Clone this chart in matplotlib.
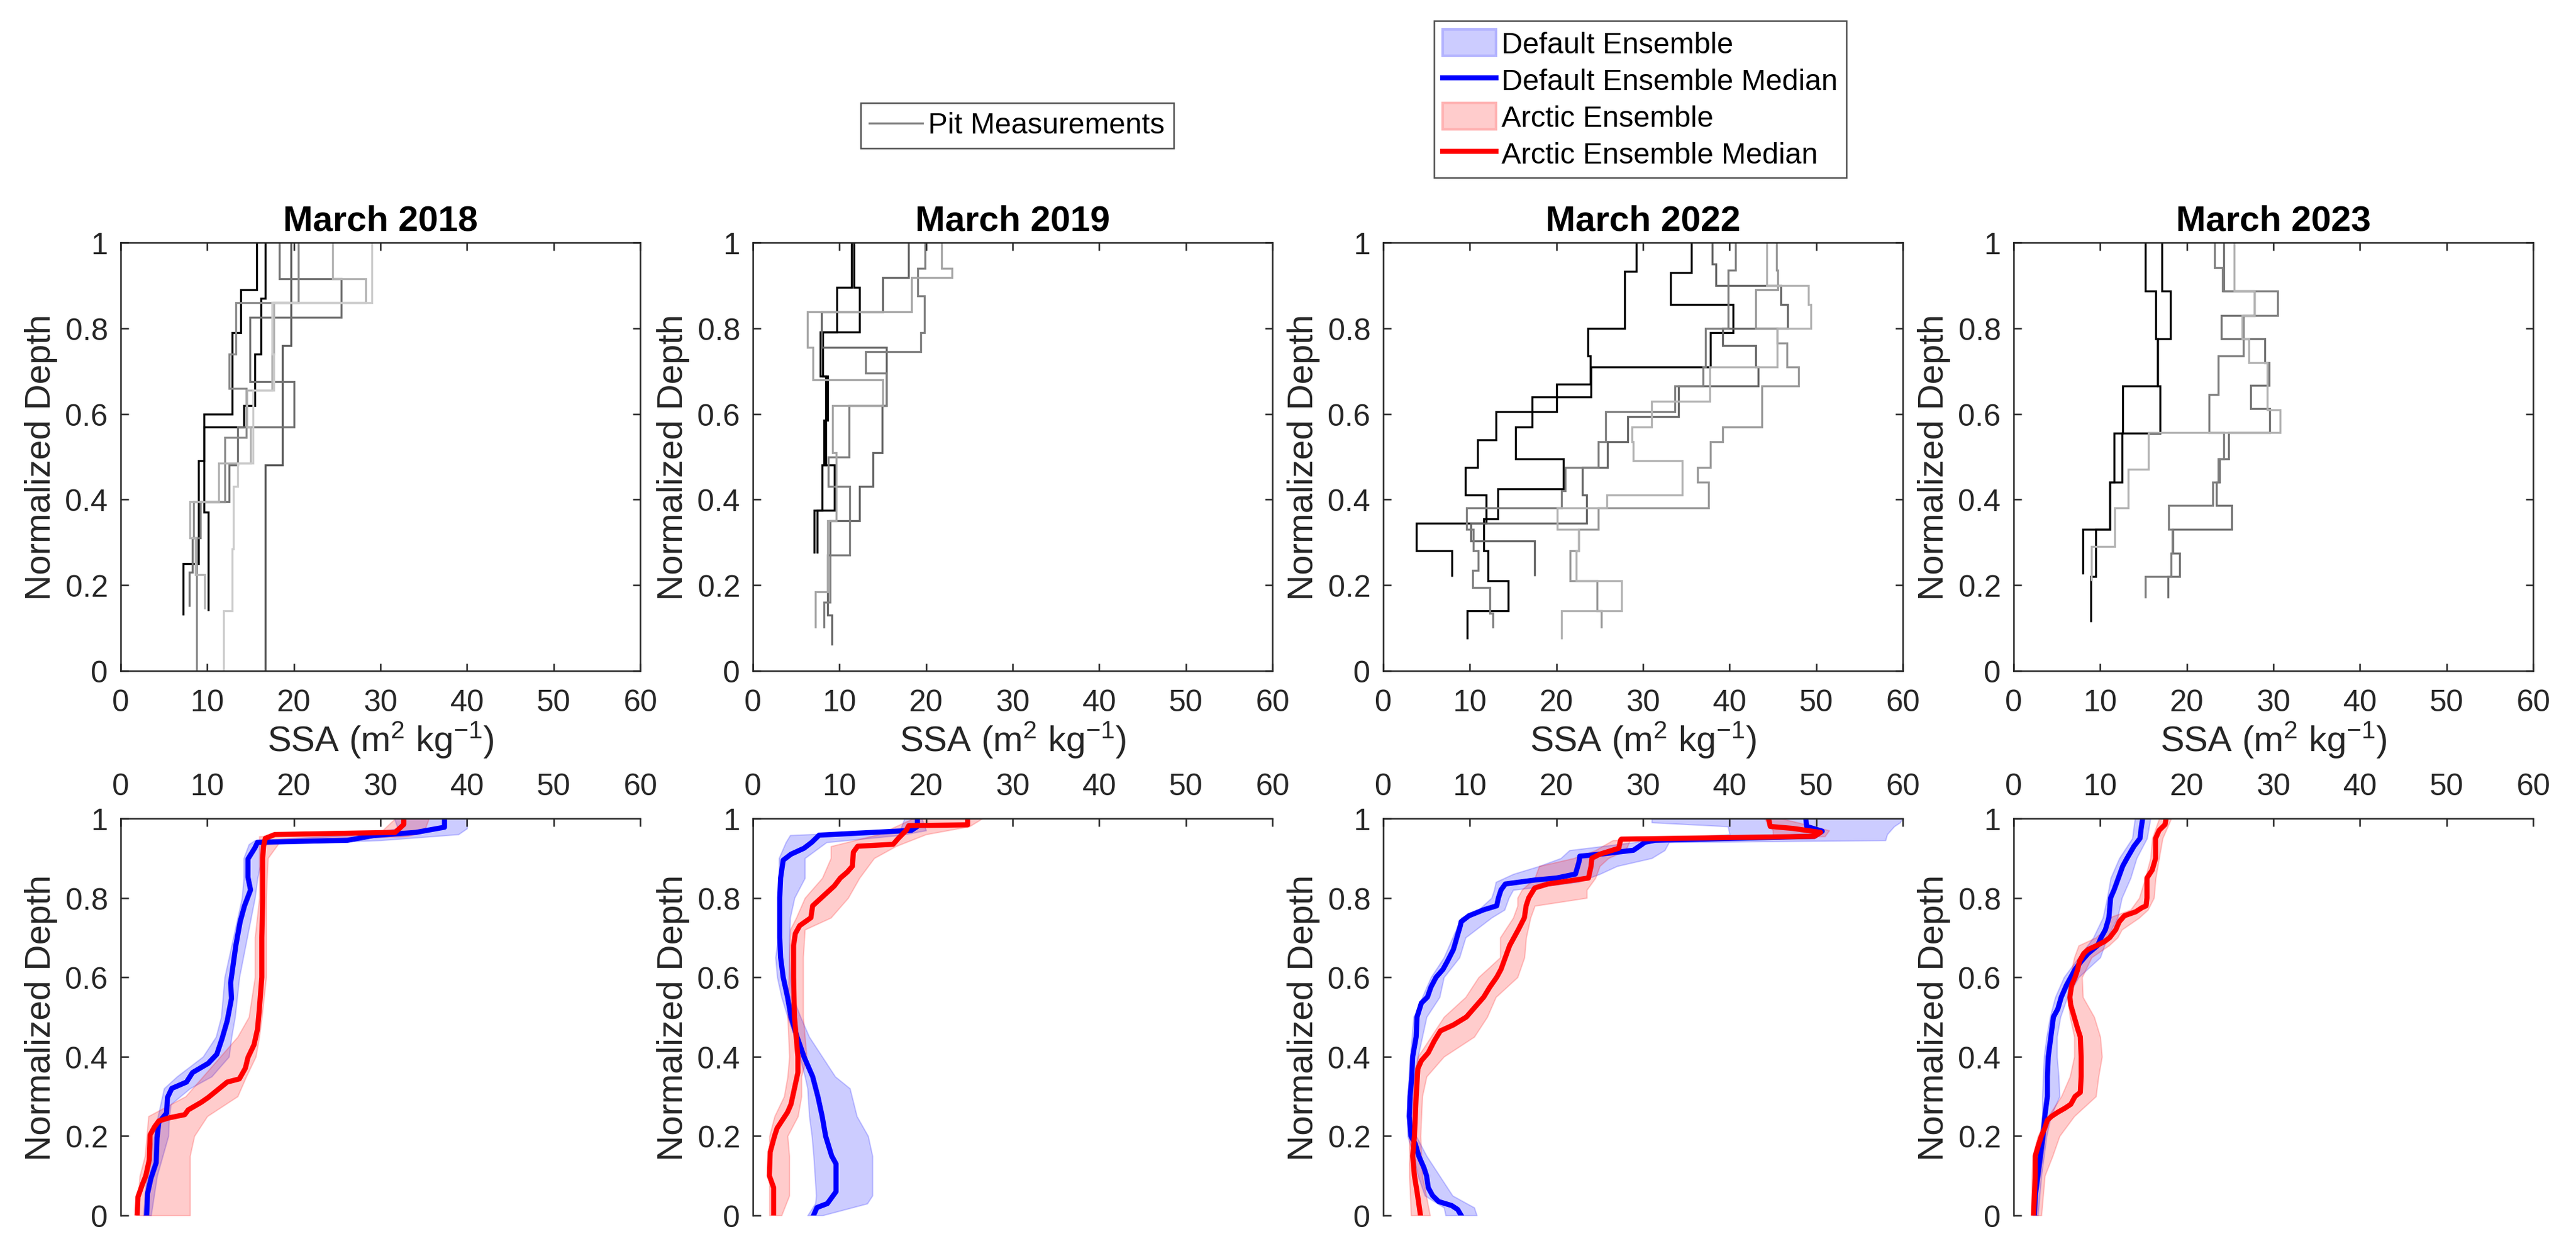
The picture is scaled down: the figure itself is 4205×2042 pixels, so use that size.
import matplotlib.pyplot as plt
from matplotlib.lines import Line2D
from matplotlib.patches import Patch
from matplotlib.ticker import FuncFormatter

plt.rcParams["font.family"] = ["Liberation Sans", "DejaVu Sans"]
plt.rcParams["mathtext.default"] = "regular"

years = [2018, 2019, 2022, 2023]
titles = ["March 2018", "March 2019", "March 2022", "March 2023"]

# pit profiles: layer boundaries from the surface down, SSA of each layer
pits_2018 = [
    ([1.0, 0.89, 0.79, 0.60, 0.49, 0.25, 0.13], [15.7, 13.9, 12.9, 9.6, 9.0, 7.2]),
    ([1.0, 0.87, 0.74, 0.62, 0.57, 0.37, 0.14], [16.7, 16.2, 15.5, 14.2, 9.6, 10.1]),
    ([1.0, 0.76, 0.48, 0.0], [19.7, 18.7, 16.7]),
    ([1.0, 0.915, 0.825, 0.675, 0.57, 0.48, 0.395, 0.31, 0.23, 0.15],
     [18.3, 25.5, 14.9, 20.0, 13.5, 12.5, 9.2, 8.3, 7.9]),
    ([1.0, 0.86, 0.74, 0.66, 0.545, 0.395, 0.31, 0.0], [20.5, 13.3, 12.5, 14.5, 12.0, 8.4, 8.8]),
    ([1.0, 0.915, 0.86, 0.74, 0.655, 0.57, 0.485, 0.395, 0.31, 0.225, 0.145],
     [24.5, 28.3, 17.7, 17.5, 14.6, 15.0, 11.3, 8.0, 8.6, 9.7]),
    ([1.0, 0.86, 0.74, 0.655, 0.485, 0.43, 0.285, 0.14, 0.0],
     [29.0, 17.5, 17.7, 15.3, 13.5, 13.0, 12.9, 11.9]),
]
pits_2019 = [
    ([1.0, 0.896, 0.791, 0.688, 0.585, 0.48, 0.375, 0.275], [11.7, 12.3, 7.8, 8.6, 8.2, 9.4, 7.1]),
    ([1.0, 0.896, 0.791, 0.688, 0.48, 0.375, 0.275], [11.4, 9.7, 8.1, 8.4, 8.0, 7.4]),
    ([1.0, 0.918, 0.838, 0.755, 0.62, 0.51, 0.43, 0.35, 0.27, 0.13, 0.06],
     [18.0, 15.0, 7.9, 15.4, 14.9, 13.9, 12.3, 8.9, 8.6, 9.1]),
    ([1.0, 0.94, 0.875, 0.79, 0.745, 0.695, 0.62, 0.50, 0.43, 0.27, 0.16, 0.10],
     [19.9, 19.0, 19.8, 19.4, 13.0, 15.4, 11.1, 8.7, 11.2, 8.9, 8.2]),
    ([1.0, 0.94, 0.918, 0.838, 0.755, 0.68, 0.62, 0.51, 0.35, 0.185, 0.10],
     [21.8, 23.0, 18.3, 6.3, 6.9, 15.0, 9.2, 9.6, 8.6, 7.2]),
]
pits_2022 = [
    ([1.0, 0.933, 0.80, 0.735, 0.67, 0.605, 0.54, 0.475, 0.41, 0.345, 0.28, 0.22],
     [29.2, 27.9, 23.6, 23.9, 20.0, 13.0, 10.9, 9.5, 11.9, 3.8, 7.9]),
    ([1.0, 0.93, 0.855, 0.79, 0.71, 0.64, 0.57, 0.495, 0.425, 0.355, 0.28, 0.21, 0.14, 0.075],
     [35.6, 33.2, 40.4, 37.8, 24.0, 17.2, 15.3, 20.8, 13.2, 11.6, 12.1, 14.4, 9.7]),
    ([1.0, 0.95, 0.90, 0.856, 0.80, 0.76, 0.71, 0.665, 0.594, 0.535, 0.475, 0.41, 0.345, 0.304, 0.222],
     [38.0, 38.4, 45.9, 46.7, 39.2, 43.0, 43.3, 34.1, 28.2, 25.9, 23.0, 23.5, 10.1, 17.5]),
    ([1.0, 0.935, 0.80, 0.71, 0.665, 0.605, 0.535, 0.475, 0.42, 0.38, 0.33, 0.28, 0.235, 0.195, 0.135, 0.10],
     [40.7, 39.8, 37.2, 36.9, 33.7, 25.7, 24.8, 21.0, 20.6, 9.6, 10.4, 11.0, 10.3, 12.3, 12.7]),
    ([1.0, 0.935, 0.89, 0.80, 0.765, 0.71, 0.665, 0.57, 0.535, 0.475, 0.44, 0.38, 0.33, 0.28, 0.21, 0.14, 0.10],
     [45.4, 45.6, 43.0, 45.5, 46.6, 48.0, 43.7, 39.2, 37.8, 36.3, 37.6, 24.8, 22.6, 21.6, 24.7, 25.2]),
    ([1.0, 0.90, 0.855, 0.80, 0.71, 0.63, 0.57, 0.535, 0.49, 0.41, 0.38, 0.33, 0.28, 0.21, 0.14, 0.075],
     [44.3, 49.1, 49.4, 45.5, 37.7, 31.0, 28.7, 28.9, 34.5, 25.8, 20.1, 22.6, 22.3, 27.5, 20.6]),
]
pits_2023 = [
    ([1.0, 0.887, 0.776, 0.665, 0.555, 0.441, 0.33, 0.226], [15.2, 16.4, 16.6, 12.6, 11.6, 11.1, 8.0]),
    ([1.0, 0.887, 0.776, 0.665, 0.555, 0.44, 0.33, 0.22, 0.115], [17.1, 18.1, 16.6, 16.9, 12.5, 11.1, 9.5, 8.9]),
    ([1.0, 0.887, 0.83, 0.776, 0.72, 0.666, 0.612, 0.556, 0.495, 0.44, 0.386, 0.33, 0.275, 0.22, 0.17],
     [24.3, 27.8, 24.0, 29.0, 29.5, 27.4, 29.6, 24.8, 23.8, 23.4, 25.2, 18.4, 19.2, 17.8]),
    ([1.0, 0.942, 0.887, 0.83, 0.735, 0.645, 0.556, 0.495, 0.44, 0.386, 0.33, 0.275, 0.22, 0.17],
     [23.2, 24.1, 30.5, 26.5, 23.6, 22.6, 24.3, 23.6, 23.0, 17.9, 18.3, 18.2, 15.2]),
    ([1.0, 0.887, 0.83, 0.776, 0.72, 0.61, 0.556, 0.47, 0.38, 0.29, 0.21],
     [25.5, 27.8, 26.4, 27.2, 29.3, 30.8, 15.6, 13.2, 11.7, 9.0]),
]
pits = {2018: pits_2018, 2019: pits_2019, 2022: pits_2022, 2023: pits_2023}

# ensemble medians (depth, SSA)
default_med_depth = {
    2018: [1.0, 0.978, 0.965, 0.957, 0.945, 0.94, 0.926, 0.898, 0.852, 0.82, 0.78, 0.74, 0.68, 0.633, 0.586,
           0.547, 0.49, 0.445, 0.406, 0.383, 0.36, 0.336, 0.32, 0.297, 0.258, 0.234, 0.195, 0.133, 0.094, 0.055, 0.0],
    2019: [1.0, 0.98, 0.97, 0.958, 0.94, 0.925, 0.91, 0.895, 0.85, 0.8, 0.7, 0.65, 0.6, 0.55, 0.5, 0.45, 0.4,
           0.35, 0.3, 0.25, 0.2, 0.15, 0.13, 0.06, 0.045, 0.03, 0.02, 0.0],
    2022: [1.0, 0.98, 0.968, 0.955, 0.945, 0.94, 0.935, 0.92, 0.91, 0.905, 0.89, 0.86, 0.85, 0.845, 0.835, 0.82,
           0.8, 0.78, 0.77, 0.755, 0.74, 0.73, 0.7, 0.67, 0.64, 0.62, 0.6, 0.575, 0.55, 0.535, 0.5, 0.45, 0.4,
           0.35, 0.3, 0.25, 0.2, 0.18, 0.15, 0.12, 0.1, 0.07, 0.05, 0.035, 0.025, 0.015, 0.0],
    2023: [1.0, 0.97, 0.95, 0.93, 0.9, 0.88, 0.85, 0.82, 0.8, 0.75, 0.72, 0.7, 0.68, 0.66, 0.64, 0.62, 0.6, 0.58,
           0.55, 0.52, 0.5, 0.45, 0.4, 0.35, 0.3, 0.25, 0.2, 0.15, 0.1, 0.05, 0.0],
}
default_med = {
    2018: [37.4, 37.4, 34.1, 29.2, 26.2, 15.8, 15.5, 14.7, 14.7, 15.0, 14.3, 13.8, 13.3, 13.0, 12.7, 12.8, 12.3,
           11.7, 11.1, 10.1, 8.3, 7.6, 5.9, 5.4, 5.3, 4.4, 4.2, 4.1, 3.5, 3.1, 3.0],
    2019: [19.0, 19.0, 18.3, 7.65, 6.8, 5.9, 4.4, 3.5, 3.2, 3.1, 3.1, 3.2, 3.5, 4.0, 4.4, 5.1, 5.9, 6.9, 7.5,
           8.0, 8.4, 9.1, 9.6, 9.6, 9.1, 8.6, 7.4, 7.0],
    2022: [48.8, 48.9, 50.7, 49.8, 31.4, 30.2, 29.9, 28.9, 25.0, 22.7, 22.6, 22.2, 20.0, 17.5, 14.1, 13.6, 13.3,
           13.1, 11.6, 9.9, 9.0, 8.9, 8.5, 8.1, 7.4, 6.9, 6.1, 5.5, 5.1, 4.4, 3.9, 3.8, 3.4, 3.3, 3.1, 3.0, 3.2,
           3.7, 4.1, 4.7, 5.0, 5.2, 5.7, 6.4, 7.9, 8.6, 9.0],
    2023: [14.9, 14.7, 14.6, 13.9, 13.1, 12.6, 12.1, 11.6, 11.2, 11.0, 10.6, 10.1, 9.7, 8.6, 7.8, 7.1, 6.6, 6.1,
           5.5, 5.1, 4.6, 4.3, 4.0, 3.9, 3.9, 3.6, 3.4, 3.1, 2.8, 2.5, 2.4],
}
arctic_med_depth = {
    2018: [1.0, 0.985, 0.965, 0.9596, 0.95, 0.93, 0.9, 0.8, 0.7, 0.6, 0.516, 0.469, 0.43, 0.398, 0.371, 0.344,
           0.336, 0.32, 0.297, 0.285, 0.266, 0.254, 0.246, 0.238, 0.223, 0.203, 0.14, 0.10, 0.078, 0.047, 0.0],
    2019: [1.0, 0.984, 0.982, 0.97, 0.95, 0.935, 0.93, 0.915, 0.88, 0.865, 0.85, 0.83, 0.8, 0.78, 0.75, 0.73,
           0.71, 0.68, 0.6, 0.5, 0.45, 0.4, 0.36, 0.33, 0.28, 0.26, 0.24, 0.22, 0.2, 0.16, 0.1, 0.07, 0.0],
    2022: [1.0, 0.98, 0.975, 0.965, 0.955, 0.948, 0.945, 0.925, 0.91, 0.9, 0.88, 0.85, 0.835, 0.825, 0.8, 0.78,
           0.75, 0.72, 0.7, 0.68, 0.65, 0.62, 0.6, 0.575, 0.55, 0.52, 0.5, 0.48, 0.465, 0.44, 0.41, 0.39, 0.37,
           0.3, 0.2, 0.15, 0.1, 0.06, 0.0],
    2023: [1.0, 0.985, 0.97, 0.95, 0.9, 0.87, 0.85, 0.8, 0.78, 0.775, 0.765, 0.755, 0.74, 0.72, 0.7, 0.69, 0.68,
           0.67, 0.66, 0.64, 0.62, 0.6, 0.58, 0.55, 0.53, 0.5, 0.47, 0.45, 0.4, 0.35, 0.31, 0.3, 0.28, 0.27,
           0.26, 0.25, 0.24, 0.22, 0.2, 0.18, 0.15, 0.1, 0.05, 0.0],
}
arctic_med = {
    2018: [32.7, 32.7, 31.7, 17.8, 16.7, 16.5, 16.4, 16.4, 16.3, 16.3, 16.0, 15.8, 15.4, 14.7, 14.4, 13.7, 12.3,
           11.4, 10.1, 9.3, 7.8, 7.4, 5.6, 4.4, 3.9, 3.4, 3.3, 2.9, 2.5, 2.0, 1.9],
    2019: [24.8, 24.8, 18.0, 17.7, 16.8, 16.2, 12.1, 11.6, 11.5, 10.9, 10.1, 9.4, 7.9, 6.9, 6.7, 5.4, 4.9, 4.7,
           4.7, 4.8, 5.0, 5.2, 5.2, 4.9, 4.4, 4.0, 3.4, 2.8, 2.5, 2.0, 1.9, 2.4, 2.4],
    2022: [44.5, 44.7, 47.3, 50.5, 49.8, 27.5, 27.4, 27.2, 25.0, 24.1, 24.0, 23.7, 19.0, 17.5, 16.8, 16.5, 16.3,
           15.6, 15.1, 14.6, 14.1, 13.6, 13.1, 12.3, 11.6, 10.4, 9.6, 8.1, 6.6, 5.9, 5.2, 4.4, 4.0, 3.8, 3.6,
           3.4, 3.6, 3.9, 4.3],
    2023: [17.6, 17.5, 16.8, 16.4, 16.4, 16.0, 15.4, 15.4, 15.3, 14.8, 14.1, 12.8, 12.2, 11.8, 11.1, 10.5, 9.6,
           8.6, 8.1, 7.6, 7.4, 7.1, 6.7, 6.5, 6.6, 7.0, 7.4, 7.7, 7.8, 7.8, 7.7, 7.1, 6.6, 5.9, 5.1, 4.4, 3.9,
           3.6, 3.2, 2.9, 2.5, 2.5, 2.4, 2.3],
}

# ensemble spread (depth, lower SSA, upper SSA)
default_band_depth = {
    2018: [1.0, 0.975, 0.96, 0.945, 0.935, 0.9, 0.85, 0.8, 0.7, 0.6, 0.5, 0.45, 0.4, 0.35, 0.32, 0.28, 0.25,
           0.2, 0.1, 0.0],
    2019: [1.0, 0.97, 0.958, 0.94, 0.9, 0.85, 0.8, 0.75, 0.7, 0.65, 0.6, 0.55, 0.5, 0.45, 0.4, 0.35, 0.32, 0.25,
           0.2, 0.15, 0.05, 0.03, 0.0],
    2022: [1.0, 0.99, 0.98, 0.96, 0.945, 0.94, 0.92, 0.9, 0.88, 0.86, 0.84, 0.82, 0.8, 0.77, 0.75, 0.7, 0.65,
           0.6, 0.55, 0.5, 0.4, 0.3, 0.2, 0.15, 0.1, 0.05, 0.02, 0.0],
    2023: [1.0, 0.95, 0.9, 0.85, 0.8, 0.75, 0.7, 0.65, 0.6, 0.55, 0.5, 0.45, 0.4, 0.35, 0.3, 0.25, 0.2, 0.1, 0.0],
}
default_lo = {
    2018: [31.6, 32.0, 28.0, 15.5, 14.8, 14.2, 14.2, 14.0, 13.0, 12.0, 11.6, 11.0, 9.5, 6.5, 5.0, 4.6, 4.3, 3.8,
           3.0, 2.6],
    2019: [17.5, 17.0, 4.3, 3.8, 3.0, 3.0, 3.0, 3.0, 2.9, 2.6, 2.8, 3.3, 4.0, 4.8, 5.4, 6.0, 6.3, 6.5, 6.8, 7.0,
           7.3, 7.2, 6.3],
    2022: [31.0, 31.0, 39.8, 40.0, 30.0, 29.0, 21.5, 20.5, 18.0, 15.0, 13.0, 12.8, 12.5, 11.0, 9.0, 8.0, 7.0,
           5.5, 4.5, 3.5, 3.1, 2.8, 2.8, 3.5, 4.0, 4.8, 7.0, 7.2],
    2023: [14.0, 13.7, 12.2, 11.2, 10.8, 10.3, 9.2, 7.5, 5.8, 4.8, 4.2, 3.8, 3.5, 3.4, 3.3, 3.3, 3.0, 2.5, 2.2],
}
default_hi = {
    2018: [40.0, 40.0, 39.0, 30.0, 16.5, 16.3, 15.8, 15.5, 14.6, 13.7, 13.2, 12.8, 12.5, 10.5, 8.0, 5.8, 5.6,
           5.5, 4.2, 3.5],
    2019: [19.5, 20.0, 17.0, 8.5, 6.0, 6.0, 4.8, 4.3, 4.2, 4.2, 4.3, 4.6, 5.5, 6.5, 8.0, 9.5, 11.2, 12.0, 13.3,
           13.8, 13.8, 13.2, 8.0],
    2022: [60.0, 59.7, 59.0, 58.2, 58.0, 33.0, 32.5, 31.0, 27.0, 25.0, 22.5, 15.0, 14.5, 14.0, 12.5, 9.5, 8.8,
           7.0, 6.5, 5.0, 4.0, 3.6, 3.8, 5.0, 6.5, 8.0, 10.5, 10.8],
    2023: [15.8, 15.4, 14.2, 13.5, 12.5, 12.0, 10.8, 10.0, 7.5, 6.2, 5.4, 5.0, 5.0, 5.2, 5.3, 4.3, 3.8, 3.2, 2.8],
}
arctic_band_depth = {
    2018: [1.0, 0.965, 0.955, 0.945, 0.9, 0.8, 0.7, 0.6, 0.5, 0.45, 0.4, 0.35, 0.3, 0.25, 0.2, 0.15, 0.1, 0.0],
    2019: [1.0, 0.98, 0.96, 0.93, 0.9, 0.85, 0.8, 0.75, 0.72, 0.65, 0.5, 0.4, 0.35, 0.3, 0.25, 0.2, 0.15, 0.05,
           0.0],
    2022: [1.0, 0.97, 0.955, 0.945, 0.92, 0.9, 0.88, 0.85, 0.82, 0.8, 0.78, 0.75, 0.7, 0.65, 0.6, 0.55, 0.5,
           0.45, 0.4, 0.35, 0.3, 0.2, 0.1, 0.0],
    2023: [1.0, 0.95, 0.9, 0.85, 0.8, 0.77, 0.75, 0.72, 0.7, 0.68, 0.65, 0.6, 0.55, 0.5, 0.45, 0.4, 0.35, 0.3,
           0.25, 0.2, 0.15, 0.1, 0.0],
}
arctic_lo = {
    2018: [31.7, 30.0, 16.0, 16.0, 16.0, 16.0, 15.5, 15.5, 14.8, 13.5, 11.5, 9.5, 7.5, 3.2, 3.0, 2.8, 2.2, 1.8],
    2019: [18.5, 16.5, 14.5, 9.0, 9.0, 8.0, 6.0, 5.0, 4.3, 4.2, 4.0, 4.2, 4.0, 3.6, 2.5, 1.9, 1.9, 1.9, 1.9],
    2022: [44.0, 45.0, 45.0, 26.5, 24.5, 22.0, 18.0, 17.5, 16.0, 15.5, 15.5, 15.0, 13.5, 13.5, 11.0, 9.5, 7.0,
           5.5, 4.0, 3.5, 3.4, 3.0, 3.0, 3.2],
    2023: [16.8, 16.0, 15.8, 15.2, 14.5, 13.5, 11.0, 10.5, 9.5, 7.5, 7.0, 6.5, 6.2, 6.5, 7.0, 7.0, 6.5, 5.5,
           4.0, 2.8, 2.2, 2.1, 2.0],
}
arctic_hi = {
    2018: [35.6, 35.0, 33.0, 18.5, 17.0, 16.8, 16.8, 16.8, 16.3, 16.0, 15.6, 14.5, 13.5, 10.0, 8.5, 8.0, 8.0, 8.0],
    2019: [26.5, 25.0, 20.0, 16.5, 14.0, 12.3, 11.0, 9.0, 6.0, 5.8, 5.8, 6.2, 5.6, 5.6, 5.2, 4.0, 4.2, 4.2, 3.3],
    2022: [46.0, 51.5, 51.0, 28.5, 28.0, 26.0, 25.0, 24.5, 23.5, 23.5, 17.5, 17.0, 16.5, 16.3, 15.5, 13.0, 12.0,
           10.5, 7.0, 5.0, 4.5, 4.3, 4.5, 5.4],
    2023: [18.2, 17.2, 16.8, 16.4, 16.2, 15.5, 14.5, 12.5, 12.0, 11.0, 9.0, 7.9, 8.0, 9.3, 10.0, 10.2, 9.8, 9.5,
           7.0, 5.3, 4.5, 3.6, 3.2],
}

# grey level of each pit line, same order as the profiles
pit_shades = {
    2018: ["0", "0", "0.35", "0.45", "0.55", "0.7", "0.8"],
    2019: ["0", "0", "0.4", "0.5", "0.65"],
    2022: ["0", "0", "0.4", "0.5", "0.6", "0.7"],
    2023: ["0", "0", "0.45", "0.5", "0.7"],
}

axis_col = "0.15"
fmt = FuncFormatter(lambda v, p: f"{v:g}")

W, H = 4205, 2043
fig = plt.figure(figsize=(W / 300, H / 300), dpi=300)
lefts = [197, 1229, 2258, 3287]
width = 848


def style_axis(ax):
    ax.set_xlim(0, 60)
    ax.set_ylim(0, 1)
    ax.set_xticks(range(0, 61, 10))
    ax.set_yticks([0, 0.2, 0.4, 0.6, 0.8, 1.0])
    ax.xaxis.set_major_formatter(fmt)
    ax.yaxis.set_major_formatter(fmt)
    for sp in ax.spines.values():
        sp.set_color(axis_col)
        sp.set_linewidth(0.6)
    ax.tick_params(direction="in", length=3, width=0.6, colors=axis_col, labelsize=12,
                   labelcolor=axis_col)
    ax.tick_params(axis="x", pad=7)
    ax.tick_params(axis="y", pad=5)
    ax.set_ylabel("Normalized Depth", fontsize=14, color=axis_col, labelpad=3)


for i, yr in enumerate(years):
    # top row: pit measurements
    ax = fig.add_axes([lefts[i] / W, 1 - 1096 / H, width / W, (1096 - 397) / H])
    for (depths, ssa), shade in zip(pits[yr], pit_shades[yr]):
        ax.stairs(ssa[::-1], depths[::-1], orientation="horizontal", baseline=None,
                  color=shade, linewidth=0.8)
    style_axis(ax)
    ax.tick_params(top=True, right=True)
    ax.set_title(titles[i], fontsize=14, fontweight="bold", pad=5)
    ax.set_xlabel("SSA (m$^2$ kg$^{-1}$)", fontsize=14, color=axis_col, labelpad=1)

    # bottom row: ensembles
    ax = fig.add_axes([lefts[i] / W, 1 - 1985 / H, width / W, (1985 - 1337) / H])
    ax.fill_betweenx(default_band_depth[yr], default_lo[yr], default_hi[yr],
                     facecolor="blue", edgecolor="blue", alpha=0.2, linewidth=0.5)
    ax.plot(default_med[yr], default_med_depth[yr], color="blue", linewidth=2)
    ax.fill_betweenx(arctic_band_depth[yr], arctic_lo[yr], arctic_hi[yr],
                     facecolor="red", edgecolor="red", alpha=0.2, linewidth=0.5)
    ax.plot(arctic_med[yr], arctic_med_depth[yr], color="red", linewidth=2)
    style_axis(ax)
    ax.xaxis.tick_top()
    ax.spines["right"].set_visible(False)
    ax.spines["bottom"].set_visible(False)
    ax.tick_params(bottom=False, right=False, top=True)

leg1 = fig.legend(handles=[Line2D([], [], color="0.5", linewidth=0.8)],
                  labels=["Pit Measurements"], loc="upper left",
                  bbox_to_anchor=(1405 / W, 1 - 169 / H), fancybox=False,
                  edgecolor=axis_col, fontsize=11.5, handlelength=1.8,
                  handletextpad=0.2, borderpad=0.3, borderaxespad=0)
leg1.get_frame().set_linewidth(0.6)

ens_handles = [
    Patch(facecolor=(0.8, 0.8, 1.0), edgecolor=(0.7, 0.7, 1.0)),
    Line2D([], [], color="blue", linewidth=2),
    Patch(facecolor=(1.0, 0.8, 0.8), edgecolor=(1.0, 0.7, 0.7)),
    Line2D([], [], color="red", linewidth=2),
]
ens_labels = ["Default Ensemble", "Default Ensemble Median", "Arctic Ensemble", "Arctic Ensemble Median"]
leg2 = fig.legend(handles=ens_handles, labels=ens_labels, loc="upper left",
                  bbox_to_anchor=(2341 / W, 1 - 35 / H), fancybox=False,
                  edgecolor=axis_col, fontsize=11.5, handlelength=1.8, handleheight=1.0,
                  handletextpad=0.2, borderpad=0.3, labelspacing=0.25, borderaxespad=0)
leg2.get_frame().set_linewidth(0.6)

fig.savefig("out.png", dpi=300)
